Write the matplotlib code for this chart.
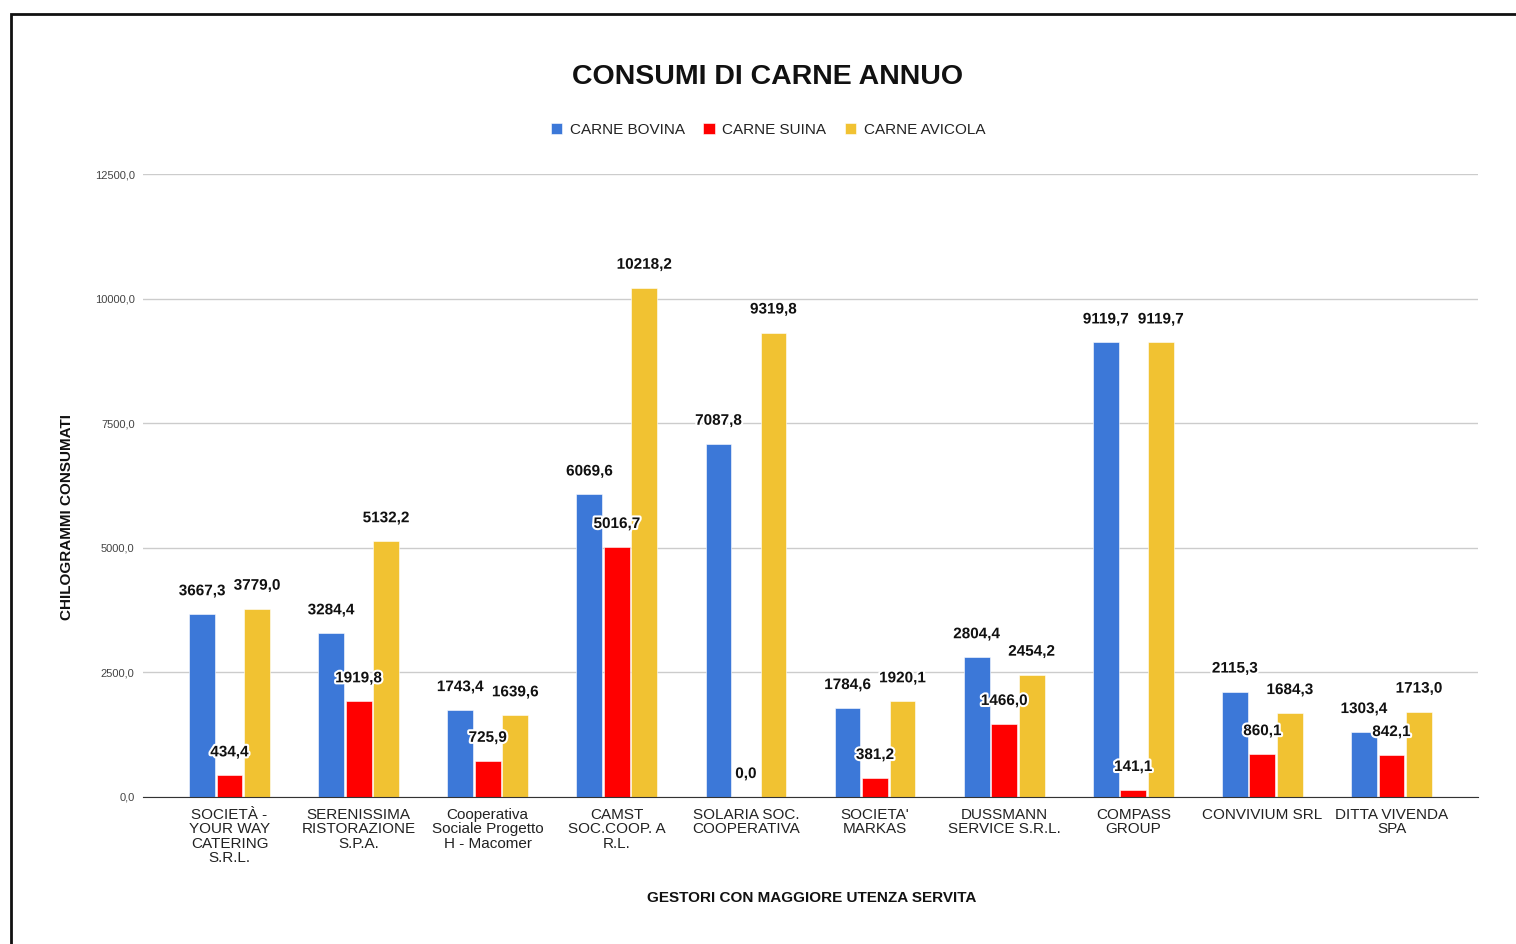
import numpy as np
import matplotlib
matplotlib.use("Agg")
import matplotlib.pyplot as plt
import matplotlib.patches as patches
import matplotlib.patheffects as pe
from matplotlib.ticker import FuncFormatter

plt.rcParams['font.family'] = ['Liberation Sans', 'DejaVu Sans']

gestori = ["SOCIETÀ -\nYOUR WAY\nCATERING\nS.R.L.", "SERENISSIMA\nRISTORAZIONE\nS.P.A.",
           "Cooperativa\nSociale Progetto\nH - Macomer", "CAMST\nSOC.COOP. A\nR.L.",
           "SOLARIA SOC.\nCOOPERATIVA", "SOCIETA'\nMARKAS", "DUSSMANN\nSERVICE S.R.L.",
           "COMPASS\nGROUP", "CONVIVIUM SRL", "DITTA VIVENDA\nSPA"]
bovina = [3667.3, 3284.4, 1743.4, 6069.6, 7087.8, 1784.6, 2804.4, 9119.7, 2115.3, 1303.4]
suina = [434.4, 1919.8, 725.9, 5016.7, 0.0, 381.2, 1466.0, 141.1, 860.1, 842.1]
avicola = [3779.0, 5132.2, 1639.6, 10218.2, 9319.8, 1920.1, 2454.2, 9119.7, 1684.3, 1713.0]
serie = ["CARNE BOVINA", "CARNE SUINA", "CARNE AVICOLA"]
colori = ["#3c78d8", "#ff0000", "#f1c232"]

fig = plt.figure(figsize=(15.16, 9.44), dpi=100)
ax = fig.add_axes([143/1516, 1-797/944, (1478-143)/1516, (797-174)/944])

# cornice nera
fig.patches.append(patches.Rectangle((10.5/1516, -0.2), 1.2, 1 - 14/944 + 0.2,
                                     transform=fig.transFigure, fill=False,
                                     lw=2, edgecolor="#111111", zorder=0))

x = np.arange(len(gestori))
w = 0.2
off = 0.213
for i, (vals, col, nome) in enumerate(zip([bovina, suina, avicola], colori, serie)):
    pos = x + (i - 1) * off
    ax.bar(pos, vals, width=w, color=col, label=nome, zorder=3,
           edgecolor="white", linewidth=0.4)
    for px, v in zip(pos, vals):
        ax.annotate(f"{v:.1f}".replace(".", ","), (px, v), xytext=(0, 23),
                    textcoords="offset pixels", ha="center", va="center",
                    fontsize=11, fontweight="bold", color="#111111", zorder=5,
                    path_effects=[pe.withStroke(linewidth=3, foreground="white")])

ax.set_xlim(-0.67, 9.67)
ax.set_ylim(0, 12500)
ax.set_yticks(np.arange(0, 12501, 2500))
ax.yaxis.set_major_formatter(FuncFormatter(lambda v, p: f"{v:.1f}".replace(".", ",")))
ax.grid(axis="y", color="#cccccc", lw=1, zorder=0)
ax.set_axisbelow(True)
for s in ["top", "right", "left"]:
    ax.spines[s].set_visible(False)
ax.spines["bottom"].set_color("#333333")
ax.spines["bottom"].set_zorder(4)
ax.tick_params(axis="y", length=0, labelsize=8, labelcolor="#444444", pad=6)
ax.tick_params(axis="x", length=0, labelsize=11, labelcolor="#222222", pad=8)
ax.set_xticks(x)
ax.set_xticklabels(gestori, linespacing=1.03)

ax.set_xlabel("GESTORI CON MAGGIORE UTENZA SERVITA", fontsize=11, fontweight="bold",
              color="#111111")
ax.xaxis.set_label_coords((812-143)/1335, -(891-797)/623)
ax.set_ylabel("CHILOGRAMMI CONSUMATI", fontsize=11, fontweight="bold", color="#111111")
ax.yaxis.set_label_coords(-(143-74)/1335, (797-517)/623)

fig.text(768/1516, 1-77/944, "CONSUMI DI CARNE ANNUO", fontsize=20.5, fontweight="bold",
         ha="center", va="center", color="#111111")

leg = fig.legend(loc="center", bbox_to_anchor=(768/1516, 1-130/944), ncol=3, frameon=False,
                 fontsize=11, handlelength=0.75, handleheight=0.75, handletextpad=0.5,
                 columnspacing=1.2, labelcolor="#222222")

fig.savefig("out.png", dpi=100)
